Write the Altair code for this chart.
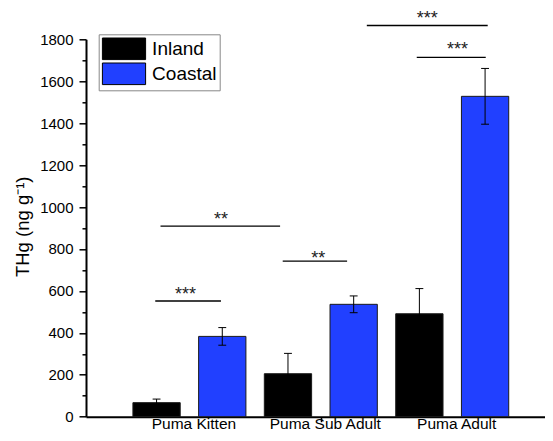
import altair as alt
import pandas as pd

# ---- data ----
categories = ["Puma Kitten", "Puma Sub Adult", "Puma Adult"]
cat_pos = [1, 2, 3]
series = ["Inland", "Coastal"]
series_offset = [-0.25, 0.25]
inland = [67, 205, 491]
inland_err = [17, 97, 120]
coastal = [383, 536, 1528]
coastal_err = [42, 40, 133]

sig_labels = ["***", "**", "**", "***", "***"]
sig_x1 = [0.74, 0.78, 1.71, 2.35, 2.73]
sig_x2 = [1.24, 1.69, 2.20, 3.27, 3.255]
sig_y = [552, 909, 742, 1866, 1714]
sig_text_x = [0.97, 1.24, 1.98, 2.81, 3.04]
sig_text_y = [558, 916, 729, 1871, 1725]

BAR_HALF = 0.18
CAP_HALF = 0.03
FONT = "Liberation Sans"
BLUE = "#2140FF"

rows = []
for i, c in enumerate(categories):
    for s, off, vals, errs in [
        (series[0], series_offset[0], inland, inland_err),
        (series[1], series_offset[1], coastal, coastal_err),
    ]:
        p = cat_pos[i] + off
        rows.append(dict(category=c, series=s, pos=p, x0=p - BAR_HALF, x1=p + BAR_HALF,
                         c0=p - CAP_HALF, c1=p + CAP_HALF, value=vals[i],
                         lo=vals[i] - errs[i], hi=vals[i] + errs[i], zero=0))
bars_df = pd.DataFrame(rows)

sig_df = pd.DataFrame(dict(label=sig_labels, x1=sig_x1, x2=sig_x2, y=sig_y,
                           tx=sig_text_x, ty=sig_text_y))

xscale = alt.Scale(domain=[0.213, 3.706], nice=False, zero=False)
yscale = alt.Scale(domain=[0, 1800], nice=False, zero=False)

label_expr = " : ".join(
    [f"datum.value == {p} ? '{c}'" for p, c in zip(cat_pos[:-1], categories[:-1])]
) + f" : '{categories[-1]}'"

x_axis = alt.Axis(
    values=cat_pos, labelExpr=label_expr, grid=False, title=None,
    domainColor="black", domainWidth=2, tickColor="black", tickWidth=1.5, tickSize=5,
    tickOpacity={"condition": {"test": "datum.value == 2", "value": 1}, "value": 0},
    labelFont=FONT, labelFontSize=15.5, labelColor="black", labelPadding=7.3,
    labelBaseline="alphabetic", labelOffset=4,
)
Y_TITLE = "THg (ng g\u207b\u00b9)"
y_axis = alt.Axis(
    values=list(range(0, 1801, 100)), format="d",
    labelExpr="datum.value % 200 == 0 ? datum.label : ''",
    grid=False, title=Y_TITLE,
    domainColor="black", domainWidth=2, tickColor="black", tickWidth=1.5,
    tickSize={"condition": {"test": "datum.value % 200 == 0", "value": 7}, "value": 4},
    labelFont=FONT, labelFontSize=15, labelColor="black", labelPadding=6,
    titleFont=FONT, titleFontSize=18.5, titleFontWeight="normal", titleColor="black",
    titleX=-58, titleY=187, titleAngle=270, titleAlign="center", titleBaseline="alphabetic",
)


def X(field):
    return alt.X(field, scale=xscale, axis=x_axis, title=None)


def Y(field):
    return alt.Y(field, scale=yscale, axis=y_axis, title=Y_TITLE)


base = alt.Chart(bars_df)

err = base.mark_rule(color="black", strokeWidth=1).encode(
    x=X("pos:Q"), y=Y("lo:Q"), y2="hi:Q",
)
cap_hi = base.mark_rule(color="black", strokeWidth=1).encode(
    x=X("c0:Q"), x2="c1:Q", y=Y("hi:Q"),
)
cap_lo = base.mark_rule(color="black", strokeWidth=1).encode(
    x=X("c0:Q"), x2="c1:Q", y=Y("lo:Q"),
)

SW = 21.6  # swatch height in px (sqrt of symbol size)
bars = base.mark_rect(stroke="#1a1a1a", strokeWidth=1).encode(
    x=X("x0:Q"),
    x2="x1:Q",
    y=Y("zero:Q"),
    y2="value:Q",
    fill=alt.Fill(
        "series:N",
        scale=alt.Scale(domain=series, range=["#000000", BLUE]),
        legend=alt.Legend(
            title=None, orient="none", legendX=12.7, legendY=-5,
            symbolType="M-2,-1H2V1H-2Z", symbolSize=SW * SW, symbolOffset=SW / 2,
            symbolStrokeColor="black", symbolStrokeWidth=1, symbolOpacity=1,
            labelFont=FONT, labelFontSize=19, labelColor="black", labelOffset=SW - 5,
            strokeColor="#888888", padding=3, rowPadding=-3, fillColor="white",
        ),
    ),
)

sig = alt.Chart(sig_df)
sig_lines = sig.mark_rule(color="black", strokeWidth=1.4).encode(
    x=X("x1:Q"), x2="x2:Q", y=Y("y:Q"),
)
sig_text = sig.mark_text(font=FONT, fontSize=18, color="#222222", baseline="alphabetic",
                         align="center").encode(
    x=X("tx:Q"), y=Y("ty:Q"), text="label:N",
)

chart = alt.layer(bars, err, cap_hi, cap_lo, sig_lines, sig_text).properties(
    width=459, height=377.4,
    autosize=alt.AutoSizeParams(type="none"),
    padding={"left": 78, "top": 31.3, "right": 0, "bottom": 16.3},
    background="white",
).configure_view(stroke=None)

chart.save("out.html", embed_options={"renderer": "svg", "actions": False})
